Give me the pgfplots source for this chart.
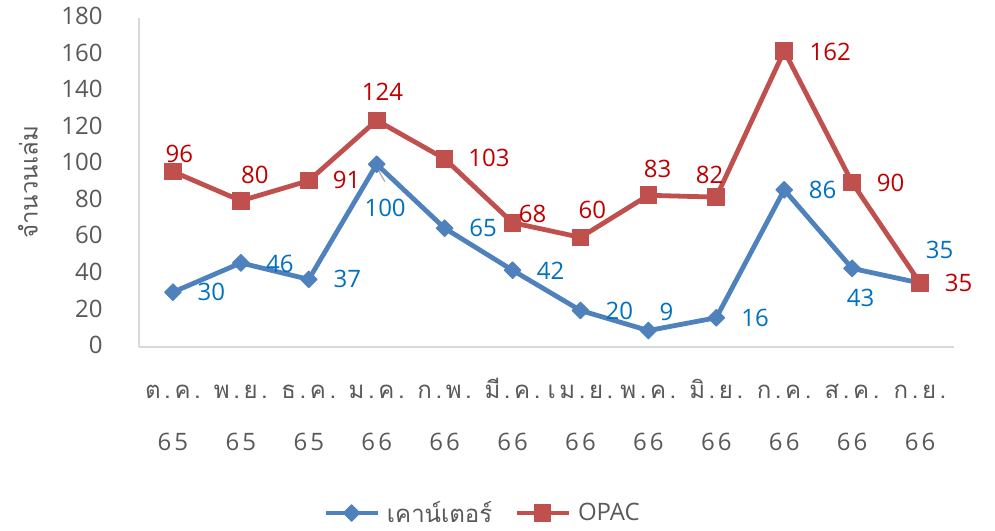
\documentclass[border=0pt]{standalone}
\usepackage{fontspec}
\setmainfont{Open Sans}
\newfontfamily\thaifont[Script=Thai]{Loma}
\newfontfamily\thaitick[Script=Thai,LetterSpace=15]{Loma}
\newfontfamily\digtick[LetterSpace=13]{Open Sans}
\usepackage{pgfplots}
\pgfplotsset{compat=1.18}
\usepackage{pgfplotstable}
\definecolor{txtgray}{RGB}{89,89,89}
\definecolor{axgray}{RGB}{217,217,217}
\definecolor{lblue}{RGB}{79,129,189}
\definecolor{lred}{RGB}{192,80,77}
\definecolor{tblue}{RGB}{0,112,192}
\definecolor{tred}{RGB}{192,0,0}

\pgfplotstableread{
x y dx dy
0 30 19.2 0.3
1 46 19.5 -0.5
2 37 19.3 0
3 100 4.2 -21.6
4 65 19.2 0
5 42 19 -0.4
6 20 19.5 -0.3
7 9 9.1 9.5
8 16 19.4 0
9 86 19.2 0
10 43 4.2 -15
11 35 9.8 16.5
}\bluedata

\pgfplotstableread{
x y dx dy
0 96 3.2 8.75
1 80 7 12.9
2 91 18.9 0.35
3 124 2.9 14.4
4 103 22.2 0.35
5 68 10 4.6
6 60 6 13.6
7 83 4.6 13.4
8 82 -3.3 11
9 162 23 -0.3
10 90 19.2 0
11 35 19.3 0
}\reddata

\newcommand{\xl}[2]{\begin{tabular}[t]{@{}c@{}}{\thaitick #1}\\[11.6pt]{\digtick #2}\end{tabular}}

\begin{document}
\begin{tikzpicture}
\path[use as bounding box] (-69.5pt,-91.5pt) rectangle (428pt,173.5pt);
\begin{axis}[
  scale only axis,
  width=407.5pt, height=164.5pt,
  xmin=-0.5, xmax=11.5, ymin=0, ymax=180,
  clip=false,
  axis x line=bottom, axis y line=left,
  axis line style={-, draw=axgray, line width=0.8pt},
  major tick length=0pt,
  xtick={0,...,11},
  xticklabels={\xl{ต.ค.}{65},\xl{พ.ย.}{65},\xl{ธ.ค.}{65},\xl{ม.ค.}{66},\xl{ก.พ.}{66},\xl{มี.ค.}{66},\xl{เม.ย.}{66},\xl{พ.ค.}{66},\xl{มิ.ย.}{66},\xl{ก.ค.}{66},\xl{ส.ค.}{66},\xl{ก.ย.}{66}},
  xticklabel style={font=\fontsize{12}{14.4}\selectfont, text=txtgray, anchor=base, inner sep=0pt, yshift=-25.5pt},
  ytick={0,20,...,180},
  yticklabel style={font=\fontsize{12}{14.4}\selectfont, text=txtgray, anchor=east, inner sep=0pt, xshift=-18pt, yshift=1pt, /pgf/number format/assume math mode=true},
  ylabel={\thaifont จำนวนเล่ม},
  every axis y label/.style={at={(axis description cs:-0.1362,0.5)}, rotate=90, anchor=center, font=\fontsize{12}{14.4}\selectfont, text=txtgray},
  legend columns=2,
  legend style={at={(0.4227,-0.5046)}, anchor=center, draw=none, fill=none, font=\fontsize{12}{14.4}\selectfont, text=txtgray, /tikz/every even column/.append style={column sep=9pt}, /tikz/every odd column/.append style={column sep=1.5pt}},
  legend cell align=left,
  legend image code/.code={\draw[mark repeat=2, mark phase=2, #1] plot coordinates {(0pt,0pt) (13pt,0pt) (26pt,0pt)};},
]
\addplot[color=lblue, line width=2.4pt, line join=round, mark=square*, mark size=2.95pt,
  mark options={rotate=45, solid, fill=lblue, draw=lblue, line width=0.5pt},
  point meta=explicit,
  nodes near coords={\pgfmathprintnumber[assume math mode=true]{\pgfplotspointmeta}},
  visualization depends on={\thisrow{dx}\as\lblx},
  visualization depends on={\thisrow{dy}\as\lbly},
  every node near coord/.append style={anchor=center, xshift=\lblx pt, yshift=\lbly pt, text=tblue, font=\fontsize{12}{14.4}\selectfont}]
  table[x=x, y=y, meta=y] {\bluedata};
\addlegendentry{\thaifont เคาน์เตอร์}
\draw[color={rgb,255:red,165;green,165;blue,165}, line width=0.6pt] (axis cs:3.02,97) -- (axis cs:3.12,90.5);
\addplot[color=lred, line width=2.4pt, line join=round, mark=square*, mark size=4.15pt,
  mark options={solid, fill=lred, draw=lred, line width=0.5pt},
  point meta=explicit,
  nodes near coords={\pgfmathprintnumber[assume math mode=true]{\pgfplotspointmeta}},
  visualization depends on={\thisrow{dx}\as\lblx},
  visualization depends on={\thisrow{dy}\as\lbly},
  every node near coord/.append style={anchor=center, xshift=\lblx pt, yshift=\lbly pt, text=tred, font=\fontsize{12}{14.4}\selectfont}]
  table[x=x, y=y, meta=y] {\reddata};
\addlegendentry{OPAC}
\end{axis}
\end{tikzpicture}
\end{document}
